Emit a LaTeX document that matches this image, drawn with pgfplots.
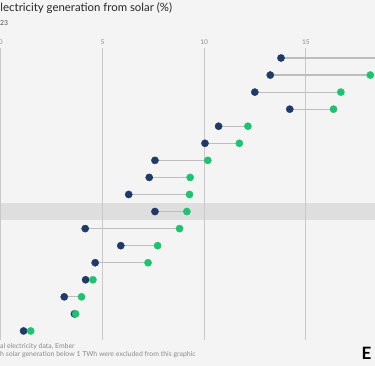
\documentclass[border=0pt]{standalone}
\usepackage{pgfplots}
\pgfplotsset{compat=1.18}
\usepackage{pgfplotstable}
\usepackage{fontspec}
\setmainfont{Lato}
\definecolor{bgcol}{HTML}{F4F4F4}
\definecolor{bandcol}{HTML}{DEDEDE}
\definecolor{gridcol}{HTML}{C9C9C9}
\definecolor{linkcol}{HTML}{BDBDBD}
\definecolor{navy}{HTML}{1F3A66}
\definecolor{emgreen}{HTML}{1DC46F}
\definecolor{txtgray}{HTML}{8A8A8A}
\pgfplotstableread{
row prev cur
1 13.78 19.80
2 13.25 18.17
3 12.49 16.72
4 14.21 16.36
5 10.71 12.15
6 10.04 11.73
7 7.58 10.18
8 7.30 9.31
9 6.29 9.28
10 7.58 9.15
11 4.15 8.79
12 5.90 7.71
13 4.64 7.24
14 4.17 4.53
15 3.12 3.97
16 3.62 3.68
17 1.12 1.47
}\solardata
\begin{document}
\begin{tikzpicture}[x=1pt,y=1pt]
\fill[bgcol] (0,0) rectangle (375,366);
\useasboundingbox (0,0) rectangle (375,366);
\fill[bandcol] (0,146) rectangle (375,163);
\node[anchor=base west, inner sep=0, font=\fontsize{11.4}{13}\selectfont, text=black!85] at (0.3,354) {lectricity generation from solar (\%)};
\node[anchor=base west, inner sep=0, font=\fontsize{6.8}{8}\selectfont, text=black!70] at (0,340.5) {23};
\begin{axis}[
  at={(0pt,26pt)}, anchor=south west,
  width=375pt, height=292pt, scale only axis,
  xmin=-0.039, xmax=18.40, ymin=0.414, ymax=17.53,
  y dir=reverse,
  axis line style={draw=none},
  ytick=\empty,
  xtick={0,5,10,15},
  xmajorgrids,
  major grid style={color=gridcol, line width=0.8pt},
  major tick length=0pt,
  xticklabel pos=upper,
  /pgf/number format/assume math mode=true,
  xticklabel style={font=\fontsize{6.5}{8}\selectfont, text=txtgray, inner sep=0pt, yshift=3pt},
]
\addplot[draw=none, forget plot, error bars/.cd, x dir=plus, x explicit,
  error mark=none, error bar style={color=linkcol, line width=1.2pt}]
  table[x=prev, y=row, x error expr=\thisrow{cur}-\thisrow{prev}] {\solardata};
\addplot[only marks, mark=*, mark size=3.6pt, color=navy, mark options={draw=navy, fill=navy}]
  table[x=prev, y=row] {\solardata};
\addplot[only marks, mark=*, mark size=3.6pt, color=emgreen, mark options={draw=emgreen, fill=emgreen}]
  table[x=cur, y=row] {\solardata};
\end{axis}
\node[anchor=base west, inner sep=0, font=\fontsize{6.9}{8}\selectfont, text=txtgray, align=left] at (0,17) {al electricity data, Ember};
\node[anchor=base west, inner sep=0, font=\fontsize{6.9}{8}\selectfont, text=txtgray, align=left] at (0,9.5) {h solar generation below 1 TWh were excluded from this graphic};
\node[anchor=base west, inner sep=0, font=\fontsize{17}{18}\selectfont\bfseries, text=black] at (361.5,6.5) {E};
\end{tikzpicture}
\end{document}
